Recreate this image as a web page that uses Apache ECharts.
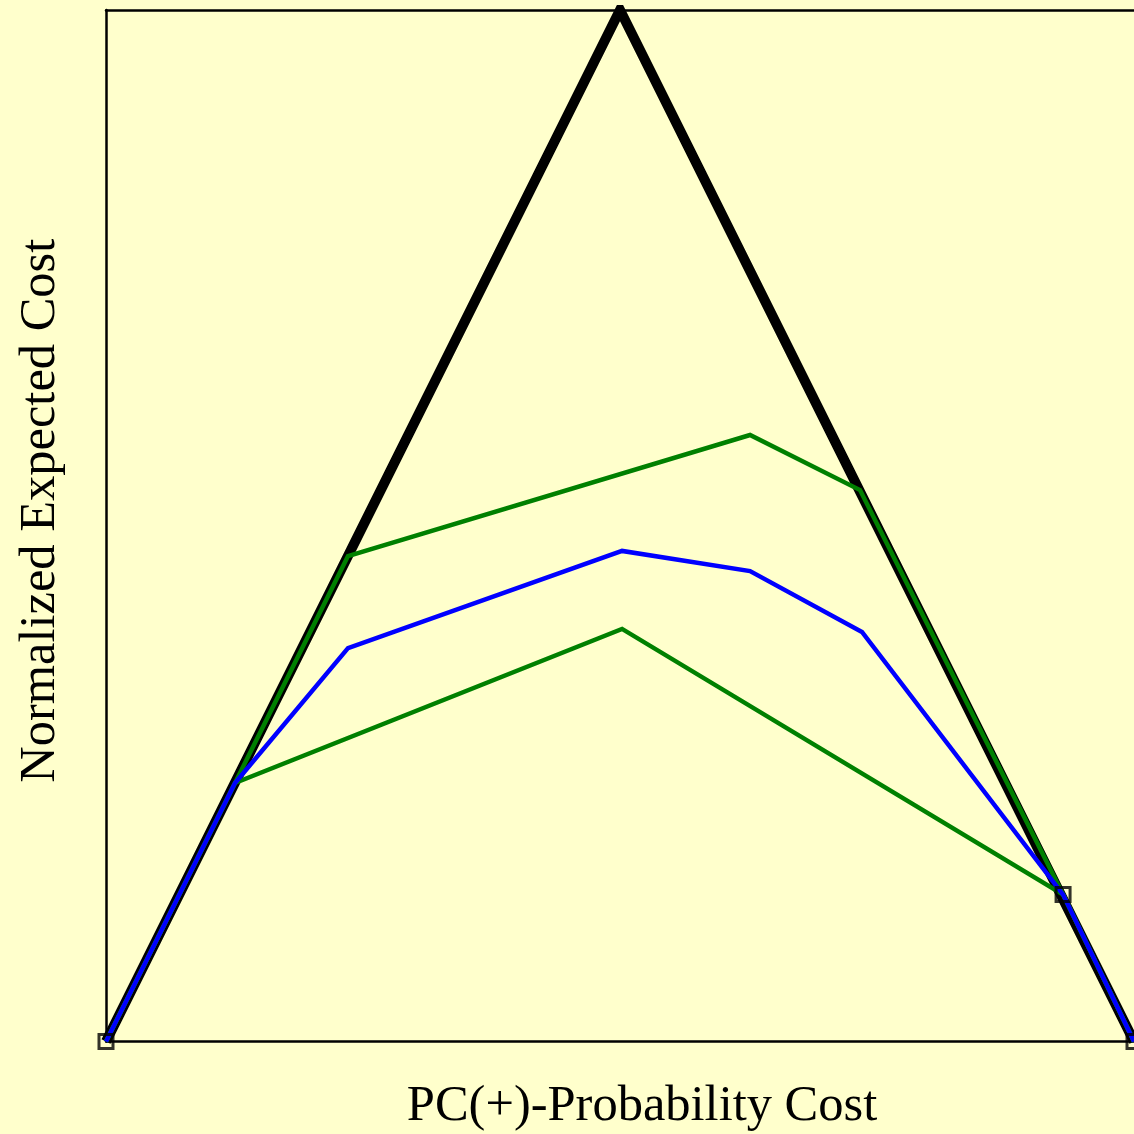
<!DOCTYPE html>
<html>
<head>
<meta charset="utf-8">
<script src="https://cdn.jsdelivr.net/npm/echarts@6/dist/echarts.min.js"></script>
<style>
  html, body { margin: 0; padding: 0; background: #ffffcc; }
  #chart { width: 1134px; height: 1134px; }
</style>
</head>
<body>
<div id="chart"></div>
<script>
// Cost curves: x = probability cost PC(+), y = normalized expected cost
const trivialCurve = [[0, 0], [0.5, 0.5], [1, 0]];
const greenUpper = [[0, 0], [0.1255, 0.1253], [0.2354, 0.2353], [0.6265, 0.294], [0.7335, 0.2673], [0.931, 0.0712], [1, 0]];
const greenLower = [[0, 0], [0.1255, 0.1253], [0.502, 0.2], [0.931, 0.0712], [1, 0]];
const blueCurve = [[0, 0], [0.1255, 0.1253], [0.2354, 0.1907], [0.502, 0.2378], [0.6265, 0.228], [0.7354, 0.1985], [0.931, 0.0712], [1, 0]];
const hullPoints = [[0, 0], [0.931, 0.0712], [1, 0]];

const xTitle = 'PC(+)-Probability Cost';
const yTitle = 'Normalized Expected Cost';

const chart = echarts.init(document.getElementById('chart'), null, { renderer: 'canvas' });
const font = 'Liberation Serif, Times New Roman, serif';
const lineSeries = (data, color, width, z) => ({
  type: 'line', data, symbol: 'none', z,
  lineStyle: { color, width, cap: 'butt', join: 'miter' },
  animation: false, clip: true
});

chart.setOption({
  backgroundColor: '#ffffcc',
  animation: false,
  grid: { left: 106, top: 10, right: 0, bottom: 92.5, outerBoundsMode: 'none', containLabel: false },
  xAxis: [{
    type: 'value', min: 0, max: 1, position: 'bottom',
    axisLine: { show: true, onZero: false, lineStyle: { color: '#000', width: 2.5 } },
    axisTick: { show: false }, axisLabel: { show: false }, splitLine: { show: false },
    name: xTitle, nameLocation: 'middle', nameGap: 40,
    nameTextStyle: { fontFamily: font, fontSize: 50.5, color: '#000', padding: [0, 0, 0, 44] }
  }, {
    type: 'value', min: 0, max: 1, position: 'top',
    axisLine: { show: true, onZero: false, lineStyle: { color: '#000', width: 2.5 } },
    axisTick: { show: false }, axisLabel: { show: false }, splitLine: { show: false }
  }],
  yAxis: {
    type: 'value', min: 0, max: 0.5,
    axisLine: { show: true, onZero: false, lineStyle: { color: '#000', width: 2.5 } },
    axisTick: { show: false }, axisLabel: { show: false }, splitLine: { show: false },
    name: yTitle, nameLocation: 'middle', nameGap: 40,
    nameTextStyle: { fontFamily: font, fontSize: 50.5, color: '#000', padding: [0, 0, 0, 30] }
  },
  series: [
    lineSeries(trivialCurve, '#000000', 10, 2),
    lineSeries(greenUpper, '#008000', 4.5, 3),
    lineSeries(greenLower, '#008000', 4.5, 3),
    lineSeries(blueCurve, '#0000ff', 4.5, 4),
    {
      type: 'scatter', data: hullPoints, symbol: 'rect', symbolSize: 14, z: 5,
      itemStyle: { color: 'rgba(0,0,0,0)', borderColor: '#000', borderWidth: 3 },
      clip: false, animation: false
    }
  ]
});
</script>
</body>
</html>
